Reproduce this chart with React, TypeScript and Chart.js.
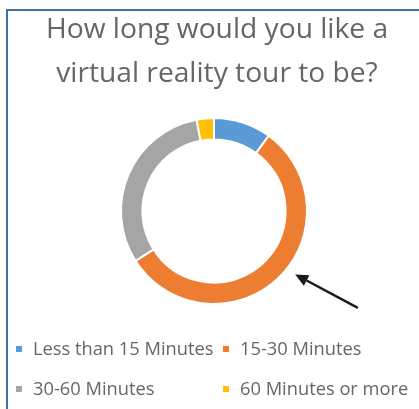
import React, { useEffect, useRef } from "react";
import { Chart, registerables } from "chart.js";

Chart.register(...registerables);

const labels = ["Less than 15 Minutes", "15-30 Minutes", "30-60 Minutes", "60 Minutes or more"];
const values = [10, 56, 31, 3];
const colors = ["#5B9BD5", "#ED7D31", "#A5A5A5", "#FFC000"];
const titleLines = ["How long would you like a", "virtual reality tour to be?"];

const FONT = "'Open Sans', Lato, sans-serif";

const overlayPlugin = {
  id: "overlay",
  afterDraw(chart: any) {
    const ctx = chart.ctx as CanvasRenderingContext2D;
    ctx.save();
    // title
    ctx.fillStyle = "#666666";
    ctx.font = `28.2px ${FONT}`;
    ctx.textAlign = "center";
    ctx.textBaseline = "alphabetic";
    ctx.fillText(titleLines[0], 217, 38);
    ctx.fillText(titleLines[1], 217, 82);

    // legend (2 columns grid)
    ctx.font = `18.3px ${FONT}`;
    ctx.textAlign = "left";
    const colX = [16, 223];
    const rowY = [355, 395];
    labels.forEach((lab, i) => {
      const x = colX[i % 2];
      const y = rowY[Math.floor(i / 2)];
      ctx.fillStyle = colors[i];
      ctx.fillRect(x, y - 9, 6, 6);
      ctx.fillStyle = "#666666";
      ctx.fillText(lab, x + 17, y);
    });

    // arrow pointing to the 15-30 slice
    const arc = chart.getDatasetMeta(0).data[1];
    if (arc) {
      const cx = arc.x, cy = arc.y, r = arc.outerRadius;
      const ang = (128 * Math.PI) / 180; // clockwise from top
      const tipX = cx + (r + 10) * Math.sin(ang);
      const tipY = cy - (r + 10) * Math.cos(ang);
      const len = 71;
      const dirAng = Math.atan2(308 - 275, 356 - 294);
      const tailX = tipX + len * Math.cos(dirAng);
      const tailY = tipY + len * Math.sin(dirAng);
      ctx.strokeStyle = "#1a1a1a";
      ctx.fillStyle = "#1a1a1a";
      ctx.lineWidth = 2.5;
      const headLen = 13;
      const bx = tipX + headLen * Math.cos(dirAng);
      const by = tipY + headLen * Math.sin(dirAng);
      ctx.beginPath();
      ctx.moveTo(tailX, tailY);
      ctx.lineTo(bx, by);
      ctx.stroke();
      const px = -Math.sin(dirAng), py = Math.cos(dirAng);
      ctx.beginPath();
      ctx.moveTo(tipX, tipY);
      ctx.lineTo(bx + px * 6, by + py * 6);
      ctx.lineTo(bx + px * -6, by + py * -6);
      ctx.closePath();
      ctx.fill();
    }
    ctx.restore();
  },
};

export default function App() {
  const ref = useRef<HTMLCanvasElement | null>(null);
  useEffect(() => {
    if (!ref.current) return;
    const chart = new Chart(ref.current, {
      type: "doughnut",
      data: {
        labels,
        datasets: [
          {
            data: values,
            backgroundColor: colors,
            borderColor: "#ffffff",
            borderWidth: 2,
          },
        ],
      },
      options: {
        responsive: false,
        animation: false,
        cutout: "77%",
        layout: { padding: { left: 120, right: 111, top: 117, bottom: 104 } },
        plugins: {
          legend: { display: false },
          title: { display: false },
          tooltip: { enabled: false },
        },
      },
      plugins: [overlayPlugin],
    });
    return () => chart.destroy();
  }, []);

  return (
    <div style={{ position: "fixed", left: 0, top: 0, width: 419, height: 409, background: "#fff", overflow: "hidden" }}>
      <div
        style={{
          position: "absolute",
          left: 6,
          top: 9,
          width: 430,
          height: 420,
          borderLeft: "2px solid #41719C",
          borderTop: "2px solid #41719C",
          boxSizing: "border-box",
        }}
      />
      <canvas ref={ref} width={419} height={409} style={{ position: "absolute", left: 0, top: 0 }} />
    </div>
  );
}
